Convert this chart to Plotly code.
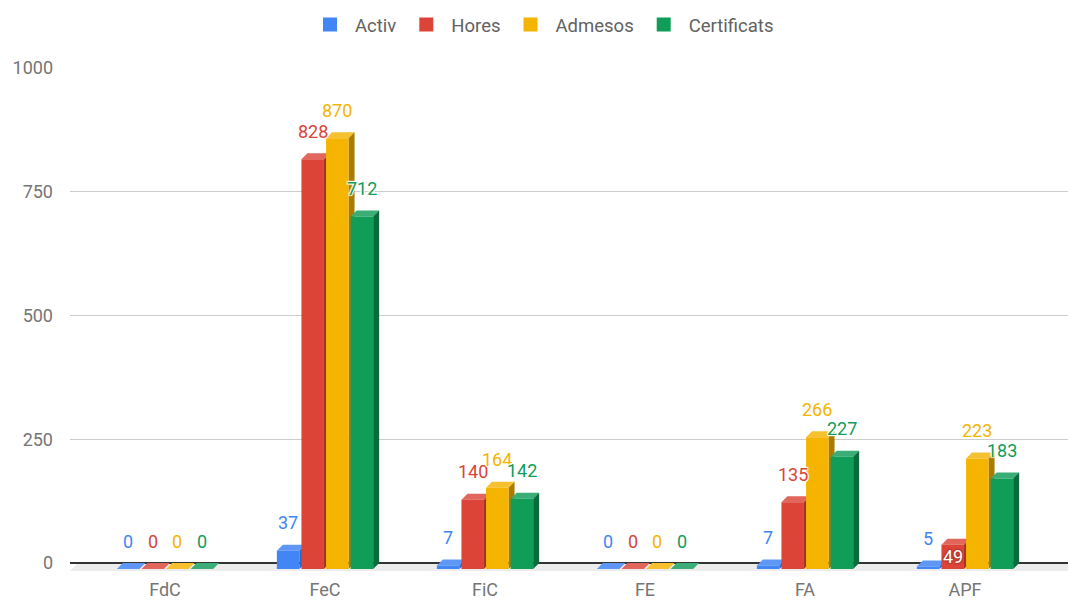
"""
3D-style grouped column chart (Activ / Hores / Admesos / Certificats)
"""
import plotly.graph_objects as go

# region Data
CATEGORIES   = ["FdC", "FeC", "FiC", "FE", "FA", "APF"]
SERIES       = ["Activ", "Hores", "Admesos", "Certificats"]
ACTIV        = [0, 37, 7, 0, 7, 5]
HORES        = [0, 828, 140, 0, 135, 49]
ADMESOS      = [0, 870, 164, 0, 266, 223]
CERTIFICATS  = [0, 712, 142, 0, 227, 183]
Y_TICKS      = [0, 250, 500, 750, 1000]
# endregion

# region Style
FRONT = ["#4285F4", "#DB4437", "#F4B400", "#0F9D58"]
TOP   = ["#5E97F6", "#E2665B", "#F6C12E", "#3AAE76"]
SIDE  = ["#2F66C2", "#A4322A", "#A97C00", "#0B6B3D"]
FONT  = "Roboto, Arial, sans-serif"

WIDTH, HEIGHT = 1068, 601
PLOT_L, PLOT_T, PLOT_B = 70, 68, 571       # pixel edges of the plot area
Y0_PX, Y1000_PX = 563, 68                  # pixel rows of y=0 and y=1000
CAT_PX = 160                               # px between category centres
X_FIRST_PX = 165                           # pixel centre of first category
LEGEND_CX = 542                            # pixel centre of the legend row

PX_PER_Y = (Y0_PX - Y1000_PX) / 1000.0
X_MIN = -(X_FIRST_PX - PLOT_L) / CAT_PX
X_MAX = X_MIN + (WIDTH - PLOT_L) / CAT_PX
Y_MIN = -(PLOT_B - Y0_PX) / PX_PER_Y
Y_MAX = (Y0_PX - PLOT_T) / PX_PER_Y

DEPTH_PX = 6
DX = DEPTH_PX / CAT_PX
DY = DEPTH_PX / PX_PER_Y
OFFSETS = [-36.9 / CAT_PX, -12.3 / CAT_PX, 12.3 / CAT_PX, 36.9 / CAT_PX]
BAR_W = 22.5 / CAT_PX
INSIDE = {("Hores", "APF")}                # labels Google put inside the bar
# endregion

values = [ACTIV, HORES, ADMESOS, CERTIFICATS]
fig = go.Figure()

# floor band under the zero line
fig.add_shape(
    type="path", xref="x", yref="y", layer="below",
    path=f"M{X_MIN},{Y_MIN} L{X_MAX},{Y_MIN} L{X_MAX},0 L{X_MIN + DX * 1.3},0 Z",
    fillcolor="#ECECEC", line=dict(width=0),
)


def _poly(pts_list):
    xs, ys = [], []
    for pts in pts_list:
        for px, py in pts:
            xs.append(px)
            ys.append(py)
        xs.append(pts[0][0]); ys.append(pts[0][1])
        xs.append(None); ys.append(None)
    return xs, ys


for k, name in enumerate(SERIES):
    tops, sides, fronts = [], [], []
    for i, v in enumerate(values[k]):
        x0 = i + OFFSETS[k] - BAR_W / 2
        x1 = x0 + BAR_W
        tops.append([(x0, v - DY), (x1, v - DY), (x1 + DX, v), (x0 + DX, v)])
        sides.append([(x1, v - DY), (x1 + DX, v), (x1 + DX, 0), (x1, -DY)])
        if v > 0:
            fronts.append([(x0, -DY), (x1, -DY), (x1, v - DY), (x0, v - DY)])
    for pts, col in ((tops, TOP[k]), (sides, SIDE[k]), (fronts, FRONT[k])):
        xs, ys = _poly(pts)
        fig.add_trace(go.Scatter(
            x=xs, y=ys, mode="lines", fill="toself", fillcolor=col,
            line=dict(width=0, color=col), hoverinfo="skip", showlegend=False,
        ))
    # legend-only entry
    fig.add_trace(go.Bar(
        name=name, x=[None], y=[None],
        marker=dict(color=FRONT[k], line=dict(color=FRONT[k], width=2)),
    ))

# value labels
halo = ", ".join(f"{a}px {b}px 1px #fff" for a in (-1, 1) for b in (-1, 1))
for k, name in enumerate(SERIES):
    for i, v in enumerate(values[k]):
        inside = (name, CATEGORIES[i]) in INSIDE
        if inside:
            fig.add_annotation(
                x=i + OFFSETS[k], y=(v - 2 * DY) / 2, text=str(v),
                showarrow=False, xanchor="center", yanchor="middle",
                font=dict(family=FONT, size=18, color="#FFFFFF",
                          shadow=", ".join(f"{a}px {b}px 1px #B33A2F"
                                           for a in (-1, 1) for b in (-1, 1))),
            )
        else:
            fig.add_annotation(
                x=i + OFFSETS[k], y=v, yshift=22, text=str(v),
                showarrow=False, xanchor="center", yanchor="middle",
                font=dict(family=FONT, size=18, color=FRONT[k], shadow=halo),
            )

fig.update_layout(
    width=WIDTH, height=HEIGHT,
    margin=dict(l=PLOT_L, r=0, t=PLOT_T, b=HEIGHT - PLOT_B, autoexpand=False),
    paper_bgcolor="#FFFFFF", plot_bgcolor="#FFFFFF",
    barmode="overlay",
    showlegend=True,
    legend=dict(
        orientation="h",
        x=(LEGEND_CX - PLOT_L) / (WIDTH - PLOT_L), xanchor="center",
        y=(PLOT_B - 25) / (PLOT_B - PLOT_T), yanchor="middle",
        font=dict(family=FONT, size=18.5, color="#616161"),
        itemwidth=40,
        itemclick=False, itemdoubleclick=False,
    ),
    xaxis=dict(
        range=[X_MIN, X_MAX], tickmode="array",
        tickvals=list(range(len(CATEGORIES))), ticktext=CATEGORIES,
        showgrid=False, zeroline=False, showline=False, ticks="",
        tickfont=dict(family=FONT, size=18, color="#757575"),
        ticklabelstandoff=6, fixedrange=True,
    ),
    yaxis=dict(
        range=[Y_MIN, Y_MAX], tickmode="array", tickvals=Y_TICKS,
        showgrid=True, gridcolor="#CCCCCC", gridwidth=1,
        zeroline=True, zerolinecolor="#333333", zerolinewidth=1.5,
        showline=False, ticks="",
        tickfont=dict(family=FONT, size=18, color="#757575"),
        ticklabelstandoff=16, fixedrange=True,
    ),
)

# page body has a default 8px margin; drop it so the figure sits at (0, 0)
fig.write_html(
    "out.html",
    config={"displayModeBar": False},
    post_script="document.body.style.margin='0';document.body.style.overflow='hidden';",
)
